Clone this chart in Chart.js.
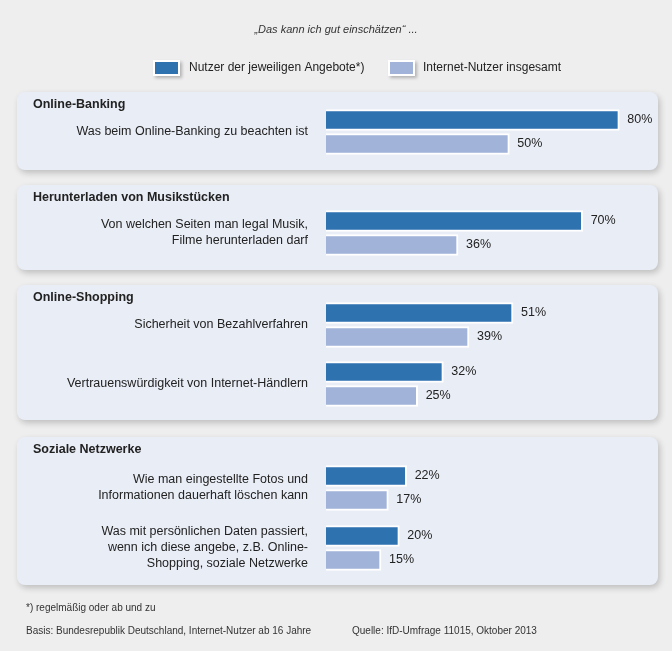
<!DOCTYPE html>
<html><head><meta charset="utf-8">
<script src="https://cdn.jsdelivr.net/npm/chart.js@4"></script>
<style>body{margin:0;background:#eeeeee}#c{display:block}</style>
</head><body>
<div style="width:672px;height:651px"><canvas id="c"></canvas></div>
<script>
const groups = ["Online-Banking", "Herunterladen von Musikstücken", "Online-Shopping", "Soziale Netzwerke"];
const labels = [
  ["Was beim Online-Banking zu beachten ist"],
  ["Von welchen Seiten man legal Musik,", "Filme herunterladen darf"],
  ["Sicherheit von Bezahlverfahren"],
  ["Vertrauenswürdigkeit von Internet-Händlern"],
  ["Wie man eingestellte Fotos und", "Informationen dauerhaft löschen kann"],
  ["Was mit persönlichen Daten passiert,", "wenn ich diese angebe, z.B. Online-", "Shopping, soziale Netzwerke"]
];
const nutzer = [80, 70, 51, 32, 22, 20];
const gesamt = [50, 36, 39, 25, 17, 15];

// layout (pixel rows, panels)
const rowPos = [132, 233, 325, 384, 488, 548];
const panels = [[92, 170, 0], [185, 270, 1], [285, 420, 2], [437, 585, 3]];
const DARK = '#2e72b0', LIGHT = '#a1b3d8';

function rr(ctx, x, y, w, h, r) {
  ctx.beginPath(); ctx.roundRect(x, y, w, h, r);
}

const decor = {
  id: 'decor',
  beforeDraw(chart) {
    const ctx = chart.ctx;
    ctx.save();
    ctx.fillStyle = '#eeeeee'; ctx.fillRect(0, 0, 672, 651);
    ctx.fillStyle = '#333';
    ctx.font = 'italic 11px "Liberation Sans", Arial';
    ctx.textAlign = 'center'; ctx.textBaseline = 'middle';
    ctx.fillText('„Das kann ich gut einschätzen“ ...', 336, 30);
    // legend
    ctx.shadowColor = 'rgba(0,0,0,0.25)'; ctx.shadowBlur = 3; ctx.shadowOffsetX = 2; ctx.shadowOffsetY = 2;
    ctx.fillStyle = '#fff';
    ctx.fillRect(153, 60, 27, 16); ctx.fillRect(388, 60, 27, 16);
    ctx.shadowColor = 'transparent';
    ctx.fillStyle = DARK; ctx.fillRect(155, 62, 23, 12);
    ctx.fillStyle = LIGHT; ctx.fillRect(390, 62, 23, 12);
    ctx.fillStyle = '#222'; ctx.textAlign = 'left';
    ctx.font = '12px "Liberation Sans", Arial';
    ctx.fillText('Nutzer der jeweiligen Angebote*)', 189, 68);
    ctx.fillText('Internet-Nutzer insgesamt', 423, 68);
    // panels
    panels.forEach(([t, b, g]) => {
      ctx.save();
      ctx.shadowColor = 'rgba(0,0,0,0.2)'; ctx.shadowBlur = 6; ctx.shadowOffsetX = 2; ctx.shadowOffsetY = 3;
      ctx.fillStyle = '#e9edf6';
      rr(ctx, 17, t, 641, b - t, 8); ctx.fill();
      ctx.restore();
      ctx.fillStyle = '#222';
      ctx.font = 'bold 12.5px "Liberation Sans", Arial';
      ctx.textAlign = 'left';
      ctx.fillText(groups[g], 33, t + 13);
    });
    // row labels
    ctx.font = '12.5px "Liberation Sans", Arial';
    ctx.textAlign = 'right';
    labels.forEach((ls, i) => {
      const y0 = rowPos[i] - (ls.length - 1) * 8;
      ls.forEach((l, j) => ctx.fillText(l, 308, y0 + j * 16));
    });
    // footer
    ctx.textAlign = 'left';
    ctx.font = '10px "Liberation Sans", Arial';
    ctx.fillStyle = '#333';
    ctx.fillText('*) regelmäßig oder ab und zu', 26, 608);
    ctx.fillText('Basis: Bundesrepublik Deutschland, Internet-Nutzer ab 16 Jahre', 26, 631);
    ctx.fillText('Quelle: IfD-Umfrage 11015, Oktober 2013', 352, 631);
    ctx.restore();
  },
  afterDatasetsDraw(chart) {
    const ctx = chart.ctx;
    ctx.save();
    ctx.fillStyle = '#222';
    ctx.font = '12.5px "Liberation Sans", Arial';
    ctx.textAlign = 'left'; ctx.textBaseline = 'middle';
    chart.data.datasets.forEach((ds, di) => {
      chart.getDatasetMeta(di).data.forEach((bar, i) => {
        ctx.fillText(ds.data[i].x + '%', bar.x + 8, bar.y);
      });
    });
    ctx.restore();
  }
};

new Chart(document.getElementById('c'), {
  type: 'bar',
  data: {
    datasets: [
      { data: nutzer.map((v, i) => ({ x: v, y: rowPos[i] - 12 })), backgroundColor: DARK },
      { data: gesamt.map((v, i) => ({ x: v, y: rowPos[i] + 12 })), backgroundColor: LIGHT }
    ]
  },
  options: {
    indexAxis: 'y',
    responsive: true, maintainAspectRatio: false, animation: false,
    layout: { padding: { left: 326, right: 16, top: 0, bottom: 0 } },
    datasets: { bar: { barThickness: 21, borderColor: '#fff', borderWidth: 2, grouped: false } },
    scales: {
      x: { type: 'linear', min: 0, max: 90, display: false },
      y: { type: 'linear', min: 0, max: 651, reverse: true, offset: false, display: false }
    },
    plugins: { legend: { display: false }, tooltip: { enabled: false } }
  },
  plugins: [decor]
});
</script>
</body></html>
